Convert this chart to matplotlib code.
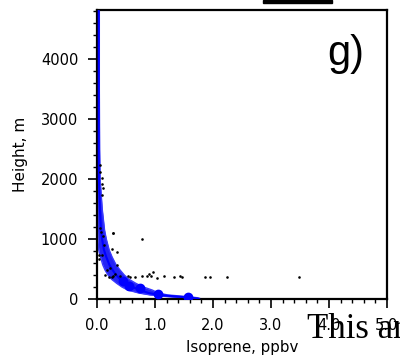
import matplotlib
matplotlib.use("Agg")
import matplotlib.pyplot as plt
from matplotlib.patches import Rectangle
import numpy as np

# Model profile (band): heights and envelope of isoprene
prof_h = [0, 20, 40, 67, 100, 150, 200, 261, 330, 400, 480, 567, 700, 817, 1000, 1150, 1500, 1983, 2500, 3500, 4817]
prof_left = [1.72, 1.52, 1.22, 0.92, 0.72, 0.53, 0.43, 0.34, 0.25, 0.19, 0.14, 0.10, 0.06, 0.03, 0.015, 0.01, 0.01, 0.01, 0.015, 0.02, 0.02]
prof_right = [1.80, 1.74, 1.56, 1.22, 1.06, 0.95, 0.80, 0.67, 0.55, 0.47, 0.40, 0.33, 0.26, 0.21, 0.16, 0.13, 0.09, 0.055, 0.045, 0.04, 0.04]

# Large model markers
mark_x = [1.57, 1.06, 0.74, 0.56, 0.45]
mark_h = [39, 85, 178, 217, 300]

# Observations
obs_x = [0.05, 0.06, 0.08, 0.08, 0.11, 0.08, 0.05, 0.07, 0.27, 0.28, 0.78, 0.25, 0.35, 0.08, 0.03,
         0.04, 0.34, 0.14, 0.20, 0.25, 0.28, 0.40, 0.54, 0.57, 0.66, 0.77, 0.86, 0.90, 0.96, 0.93,
         1.03, 1.16, 1.33, 1.43, 1.47, 1.87, 1.95, 2.24, 3.49, 0.17, 0.22, 0.31, 0.12, 0.10]
obs_h = [2233, 2122, 2011, 1911, 1844, 1733, 1178, 1111, 1094, 1094, 994, 833, 789, 733, 667,
         733, 567, 400, 372, 372, 390, 383, 383, 372, 372, 383, 383, 417, 456, 383,
         345, 383, 372, 389, 372, 367, 361, 367, 361, 480, 520, 420, 900, 1050]

xticks = [0, 1, 2, 3, 4, 5]
xticklabels = ["0.0", "1.0", "2.0", "3.0", "4.0", "5.0"]
yticks = [0, 1000, 2000, 3000, 4000]

plt.rcParams['font.family'] = ['DejaVu Sans']

fig = plt.figure(figsize=(4.0, 3.61), dpi=100)
ax = fig.add_axes([97/400, 1-299/361, 290/400, 289/361])

ax.fill_betweenx(prof_h, prof_left, prof_right, color='#2424f4', lw=0, zorder=2)
prof_mid = [(a + b) / 2 for a, b in zip(prof_left, prof_right)]
ax.plot(prof_mid, prof_h, color='#0000ff', lw=1.5, zorder=3)
ax.plot(prof_left, prof_h, color='#3a3aff', lw=1.0, zorder=2)
ax.plot(prof_right, prof_h, color='#3a3aff', lw=1.0, zorder=2)
ax.plot(mark_x, mark_h, 'o', color='#0000ff', ms=6, zorder=4, lw=0)
ax.scatter(obs_x, obs_h, s=3.5, color='black', zorder=5, lw=0)

ax.set_xlim(0, 5)
ax.set_ylim(0, 4817)
ax.set_xticks(xticks)
ax.set_xticklabels(xticklabels, fontsize=10.5)
ax.set_xticks(np.arange(0, 5.01, 0.2), minor=True)
ax.set_yticks(yticks)
ax.set_yticklabels([str(v) for v in yticks], fontsize=10.5)
ax.set_yticks(np.arange(0, 4801, 200), minor=True)
ax.tick_params(which='major', length=6.5, width=1.2, direction='out', pad=7)
ax.tick_params(which='minor', length=3, width=1.0, direction='out')
for s in ax.spines.values():
    s.set_linewidth(1.6)

ax.set_xlabel("Isoprene, ppbv", fontsize=10.8, labelpad=5)
ax.set_ylabel("Height, m", fontsize=11, labelpad=9)

ax.text(346/400, 1-54/361, "g)", transform=fig.transFigure, fontsize=30, ha='center', va='center',
        family=['Liberation Sans'])

fig.patches.append(Rectangle((263/400, 1-3/361), 69/400, 3/361, transform=fig.transFigure,
                             color='black', zorder=10))
fig.text(307/400, 1-338/361, "This ar", fontsize=25, family=['Liberation Serif'], ha='left',
         va='baseline')

fig.savefig("out.png", dpi=100)
